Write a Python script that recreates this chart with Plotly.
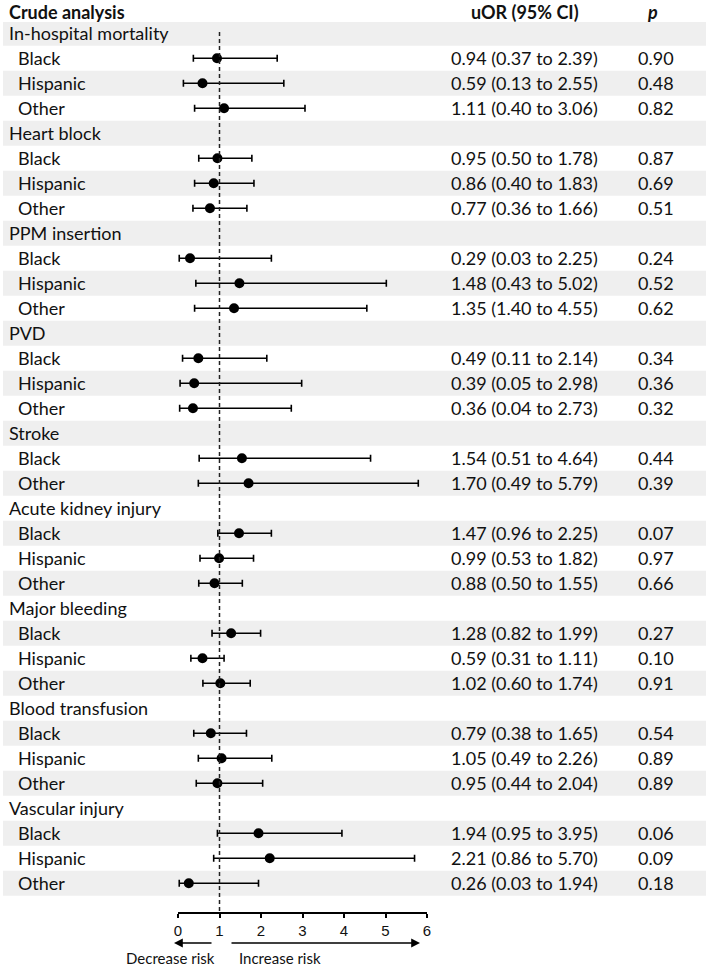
import plotly.graph_objects as go

# ---------------- data ----------------
outcomes = ["In-hospital mortality", "Heart block", "PPM insertion", "PVD", "Stroke",
            "Acute kidney injury", "Major bleeding", "Blood transfusion", "Vascular injury"]

groups_per_outcome = [
    ["Black", "Hispanic", "Other"],
    ["Black", "Hispanic", "Other"],
    ["Black", "Hispanic", "Other"],
    ["Black", "Hispanic", "Other"],
    ["Black", "Other"],
    ["Black", "Hispanic", "Other"],
    ["Black", "Hispanic", "Other"],
    ["Black", "Hispanic", "Other"],
    ["Black", "Hispanic", "Other"],
]

uor = [0.94, 0.59, 1.11,
       0.95, 0.86, 0.77,
       0.29, 1.48, 1.35,
       0.49, 0.39, 0.36,
       1.54, 1.70,
       1.47, 0.99, 0.88,
       1.28, 0.59, 1.02,
       0.79, 1.05, 0.95,
       1.94, 2.21, 0.26]

ci_low = [0.37, 0.13, 0.40,
          0.50, 0.40, 0.36,
          0.03, 0.43, 0.40,
          0.11, 0.05, 0.04,
          0.51, 0.49,
          0.96, 0.53, 0.50,
          0.82, 0.31, 0.60,
          0.38, 0.49, 0.44,
          0.95, 0.86, 0.03]

ci_high = [2.39, 2.55, 3.06,
           1.78, 1.83, 1.66,
           2.25, 5.02, 4.55,
           2.14, 2.98, 2.73,
           4.64, 5.79,
           2.25, 1.82, 1.55,
           1.99, 1.11, 1.74,
           1.65, 2.26, 2.04,
           3.95, 5.70, 1.94]

uor_text = ["0.94 (0.37 to 2.39)", "0.59 (0.13 to 2.55)", "1.11 (0.40 to 3.06)",
            "0.95 (0.50 to 1.78)", "0.86 (0.40 to 1.83)", "0.77 (0.36 to 1.66)",
            "0.29 (0.03 to 2.25)", "1.48 (0.43 to 5.02)", "1.35 (1.40 to 4.55)",
            "0.49 (0.11 to 2.14)", "0.39 (0.05 to 2.98)", "0.36 (0.04 to 2.73)",
            "1.54 (0.51 to 4.64)", "1.70 (0.49 to 5.79)",
            "1.47 (0.96 to 2.25)", "0.99 (0.53 to 1.82)", "0.88 (0.50 to 1.55)",
            "1.28 (0.82 to 1.99)", "0.59 (0.31 to 1.11)", "1.02 (0.60 to 1.74)",
            "0.79 (0.38 to 1.65)", "1.05 (0.49 to 2.26)", "0.95 (0.44 to 2.04)",
            "1.94 (0.95 to 3.95)", "2.21 (0.86 to 5.70)", "0.26 (0.03 to 1.94)"]

p_text = ["0.90", "0.48", "0.82",
          "0.87", "0.69", "0.51",
          "0.24", "0.52", "0.62",
          "0.34", "0.36", "0.32",
          "0.44", "0.39",
          "0.07", "0.97", "0.66",
          "0.27", "0.10", "0.91",
          "0.54", "0.89", "0.89",
          "0.06", "0.09", "0.18"]

x_ticks = [0, 1, 2, 3, 4, 5, 6]
header_left = "Crude analysis"
header_mid = "uOR (95% CI)"
header_right = "p"
left_note = "Decrease risk"
right_note = "Increase risk"

# ---------------- layout helpers ----------------
W, H = 709, 967
ML, MR, MT, MB = 178, 282, 22, 55
PW = W - ML - MR
PH = H - MT - MB
ROW0_PX = 33.3     # pixel centre of first row
ROW_H = 25.0
AXIS_PX = MT + PH


def px_to_paper_x(px):
    return (px - ML) / PW


def px_to_paper_y(py):
    return (H - MB - py) / PH


def px_to_row(py):
    return (py - ROW0_PX) / ROW_H


y_top = px_to_row(MT)
y_bot = px_to_row(AXIS_PX)

FONT = "Lato, 'Open Sans', sans-serif"
TXT = 18
COLOR = "#111111"

# assign rows
row_outcome = []
row_sub = []
r = 0
k = 0
for o, subs in zip(outcomes, groups_per_outcome):
    row_outcome.append((r, o))
    r += 1
    for s in subs:
        row_sub.append((r, s, k))
        r += 1
        k += 1
n_rows = r

sub_rows = [t[0] for t in row_sub]

fig = go.Figure()

fig.add_trace(go.Scatter(
    x=uor,
    y=sub_rows,
    mode="markers",
    marker=dict(color="black", size=10),
    error_x=dict(
        type="data", symmetric=False,
        array=[h - m for h, m in zip(ci_high, uor)],
        arrayminus=[m - l for m, l in zip(uor, ci_low)],
        color="black", thickness=1.6, width=3.5,
    ),
    cliponaxis=False,
    showlegend=False,
    hoverinfo="skip",
))

shapes = []
for i in range(n_rows):
    if i % 2 == 0:
        shapes.append(dict(type="rect", xref="paper", yref="y",
                           x0=px_to_paper_x(3), x1=px_to_paper_x(706),
                           y0=i - 0.5, y1=i + 0.5,
                           fillcolor="#efefef", line=dict(width=0), layer="below"))
shapes.append(dict(type="line", xref="x", yref="y", x0=1, x1=1,
                   y0=-0.05, y1=y_bot,
                   line=dict(color="#222222", width=1.5, dash="4px,3px")))

ann = []
hdr_y = px_to_paper_y(11.5)
ann.append(dict(text="<b>" + header_left + "</b>", x=px_to_paper_x(7), y=hdr_y,
                xref="paper", yref="paper", xanchor="left", yanchor="middle",
                showarrow=False, font=dict(size=TXT, family=FONT, color=COLOR)))
ann.append(dict(text="<b>" + header_mid + "</b>", x=px_to_paper_x(524.5), y=hdr_y,
                xref="paper", yref="paper", xanchor="center", yanchor="middle",
                showarrow=False, font=dict(size=TXT, family=FONT, color=COLOR)))
ann.append(dict(text="<b><i>" + header_right + "</i></b>", x=px_to_paper_x(652), y=hdr_y,
                xref="paper", yref="paper", xanchor="center", yanchor="middle",
                showarrow=False, font=dict(size=TXT, family=FONT, color=COLOR)))

for rr, o in row_outcome:
    ann.append(dict(text=o, x=px_to_paper_x(7), y=rr, xref="paper", yref="y",
                    xanchor="left", yanchor="middle", showarrow=False,
                    font=dict(size=TXT, family=FONT, color=COLOR)))
for rr, s, kk in row_sub:
    ann.append(dict(text=s, x=px_to_paper_x(16), y=rr, xref="paper", yref="y",
                    xanchor="left", yanchor="middle", showarrow=False,
                    font=dict(size=TXT, family=FONT, color=COLOR)))
    ann.append(dict(text=uor_text[kk], x=px_to_paper_x(524.5), y=rr, xref="paper", yref="y",
                    xanchor="center", yanchor="middle", showarrow=False,
                    font=dict(size=TXT, family=FONT, color=COLOR)))
    ann.append(dict(text=p_text[kk], x=px_to_paper_x(655.5), y=rr, xref="paper", yref="y",
                    xanchor="center", yanchor="middle", showarrow=False,
                    font=dict(size=TXT, family=FONT, color=COLOR)))

arrow_y = px_to_paper_y(943)
ann.append(dict(text="", x=px_to_paper_x(174), y=arrow_y, xref="paper", yref="paper",
                ax=(213 - 174), ay=0, axref="pixel", ayref="pixel",
                showarrow=True, arrowhead=2, arrowsize=1.1, arrowwidth=1.6,
                arrowcolor="black", standoff=0, startstandoff=0))
ann.append(dict(text="", x=px_to_paper_x(420), y=arrow_y, xref="paper", yref="paper",
                ax=(230 - 420), ay=0, axref="pixel", ayref="pixel",
                showarrow=True, arrowhead=2, arrowsize=1.1, arrowwidth=1.6,
                arrowcolor="black", standoff=0, startstandoff=0))
note_y = px_to_paper_y(957.5)
ann.append(dict(text=left_note, x=px_to_paper_x(170), y=note_y, xref="paper", yref="paper",
                xanchor="center", yanchor="middle", showarrow=False,
                font=dict(size=15, family=FONT, color=COLOR)))
ann.append(dict(text=right_note, x=px_to_paper_x(279.5), y=note_y, xref="paper", yref="paper",
                xanchor="center", yanchor="middle", showarrow=False,
                font=dict(size=15, family=FONT, color=COLOR)))

fig.update_layout(
    width=W, height=H,
    margin=dict(l=ML, r=MR, t=MT, b=MB, pad=0),
    paper_bgcolor="white", plot_bgcolor="rgba(0,0,0,0)",
    shapes=shapes, annotations=ann,
    xaxis=dict(range=[x_ticks[0], x_ticks[-1]], tickvals=x_ticks,
               showline=True, linecolor="black", linewidth=1.5,
               ticks="outside", ticklen=4, tickwidth=1.5, tickcolor="black",
               showgrid=False, zeroline=False,
               tickfont=dict(family="'Liberation Sans', Arial, sans-serif", size=15, color=COLOR)),
    yaxis=dict(range=[y_bot, y_top], visible=False, showgrid=False, zeroline=False),
)

fig.write_html(
    "out.html",
    config={"displayModeBar": False},
    post_script="document.body.style.margin='0';document.body.style.padding='0';"
                "document.body.style.overflow='hidden';",
)
